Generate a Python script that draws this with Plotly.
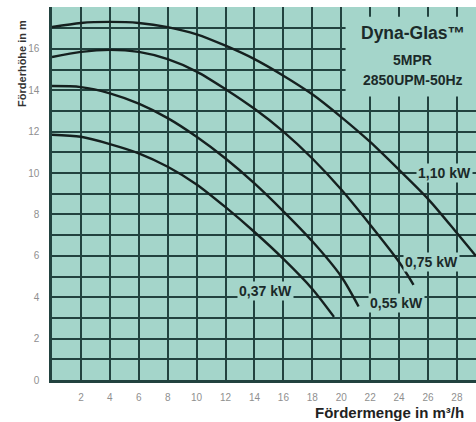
import plotly.graph_objects as go

# Data (flow m3/h, head m)
q_110 = [0, 2, 4, 6, 8, 10, 12, 14, 16, 18, 20, 22, 24, 26, 28, 29.3]
h_110 = [17.05, 17.25, 17.3, 17.25, 17.05, 16.7, 16.15, 15.5, 14.7, 13.8, 12.7, 11.5, 10.15, 8.75, 7.1, 6.0]

q_075 = [0, 2, 4, 6, 8, 10, 12, 14, 16, 18, 20, 22, 24, 25]
h_075 = [15.6, 15.85, 15.95, 15.85, 15.5, 14.9, 14.05, 13.1, 12.0, 10.7, 9.2, 7.5, 5.7, 4.6]

q_055 = [0, 2, 4, 6, 8, 10, 12, 14, 16, 18, 20, 21.2]
h_055 = [14.2, 14.15, 13.85, 13.35, 12.65, 11.75, 10.7, 9.5, 8.15, 6.7, 5.0, 3.55]

q_037 = [0, 2, 4, 6, 8, 10, 12, 14, 16, 18, 19.5]
h_037 = [11.85, 11.75, 11.4, 10.95, 10.3, 9.45, 8.35, 7.15, 5.85, 4.4, 3.05]

series = [("1,10 kW", q_110, h_110), ("0,75 kW", q_075, h_075),
          ("0,55 kW", q_055, h_055), ("0,37 kW", q_037, h_037)]

# label anchor positions (data coords)
label_pos = {"1,10 kW": (25.17, 10.0), "0,75 kW": (24.27, 5.70),
             "0,55 kW": (21.85, 3.72), "0,37 kW": (12.79, 4.30)}

x_ticks = list(range(2, 29, 2))
y_ticks = list(range(0, 17, 2))

title_lines = ["Dyna-Glas™", "5MPR", "2850UPM-50Hz"]

BG = "#a4d5ca"
GRID = "#22423f"
CURVE = "#15201f"
FONT = "Liberation Sans, Arial, sans-serif"

fig = go.Figure()
for name, q, h in series:
    fig.add_trace(go.Scatter(x=q, y=h, mode="lines", name=name,
                             line=dict(color=CURVE, width=2.4, shape="spline", smoothing=0.8),
                             showlegend=False, hoverinfo="skip"))

for name, (lx, ly) in label_pos.items():
    fig.add_annotation(x=lx, y=ly, xref="x", yref="y", text="<b>" + name + "</b>",
                       showarrow=False, xanchor="left", yanchor="middle",
                       font=dict(family=FONT, size=14, color="#1b2a29"),
                       bgcolor=BG, borderpad=1)

# info box
fig.add_shape(type="rect", xref="x", yref="y", x0=20.3, x1=29.5, y0=13.7, y1=17.55,
              fillcolor=BG, line=dict(width=0), layer="between")
for txt, yy, sz in zip(title_lines, [16.76, 15.46, 14.49], [17.5, 14, 14]):
    fig.add_annotation(x=24.95, y=yy, xref="x", yref="y", text="<b>" + txt + "</b>",
                       showarrow=False, xanchor="center", yanchor="middle",
                       font=dict(family=FONT, size=sz, color="#1b2a29"))

fig.add_annotation(x=-0.0708, y=0.85, xref="paper", yref="paper",
                   xanchor="center", yanchor="middle",
                   text="<b>Förderhöhe in m</b>", textangle=-90, showarrow=False,
                   font=dict(family=FONT, size=11, color="#333333"))
fig.add_annotation(x=1, y=0, xref="paper", yref="paper", xanchor="right", yanchor="middle",
                   xshift=-10, yshift=-32,
                   text="<b>Fördermenge in m³/h</b>", showarrow=False,
                   font=dict(family=FONT, size=15, color="#222222"))

fig.update_layout(
    width=476, height=422,
    margin=dict(l=52, r=0, t=7, b=42),
    plot_bgcolor=BG, paper_bgcolor="white",
    xaxis=dict(range=[0, 29.32], tickvals=x_ticks, showgrid=True, gridcolor=GRID, gridwidth=1.6,
               zeroline=False, showline=True, linecolor=GRID, linewidth=2.5,
               ticks="", ticklabelstandoff=6,
               tickfont=dict(family=FONT, size=10, color="#8f8f8f")),
    yaxis=dict(range=[0, 18.02], tickvals=y_ticks, showgrid=True, gridcolor=GRID, gridwidth=1.6,
               minor=dict(dtick=1, showgrid=True, gridcolor=GRID, gridwidth=1.6),
               zeroline=False, showline=True, linecolor=GRID, linewidth=2.5,
               ticks="", ticklabelstandoff=8,
               tickfont=dict(family=FONT, size=10, color="#8f8f8f")),
)

fig.write_html("out.html", config={"displayModeBar": False},
               post_script="document.body.style.margin='0';document.body.style.overflow='hidden';")
